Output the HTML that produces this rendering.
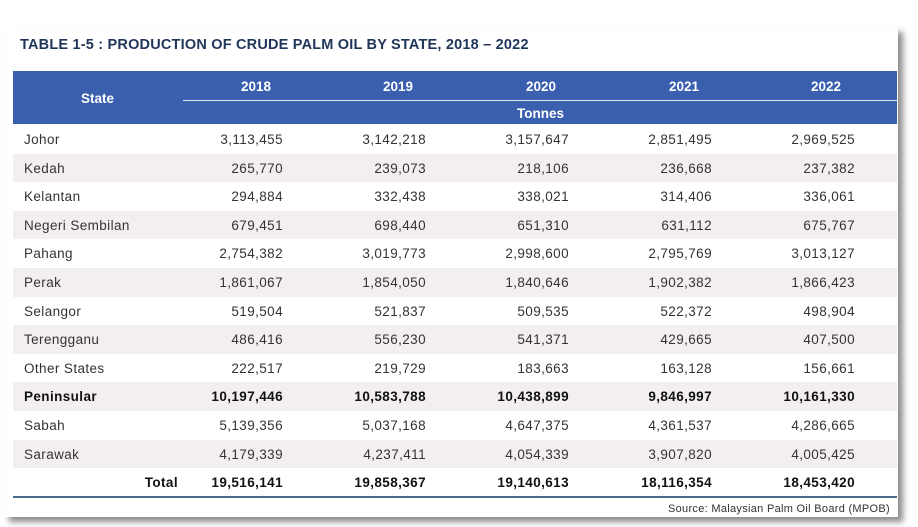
<!DOCTYPE html>
<html><head><style>
body{margin:0;width:918px;height:527px;background:#fff;position:relative;overflow:hidden;font-family:"Liberation Sans",sans-serif;}
#card{position:absolute;left:4px;top:27px;width:894px;height:490px;background:#fff;box-shadow:5px 5px 6px rgba(0,0,0,0.45);}
.t{position:absolute;white-space:nowrap;}
.title{left:20px;top:37px;font-size:14.5px;font-weight:bold;color:#1f3559;letter-spacing:0.2px;}
.hdr{position:absolute;left:13px;top:71px;width:884px;height:53px;background:#3a5fae;}
.hl{position:absolute;left:183px;top:100px;width:714px;height:1px;background:#dfe6f3;}
.h{color:#fff;font-weight:bold;font-size:13.5px;}
.row{position:absolute;left:13px;width:884px;height:28.6px;}
.sh{background:#f4efef;}
.c{position:absolute;font-size:13.5px;color:#333;top:7px;letter-spacing:0.4px;}
.lab{left:11px;}
.n{text-align:right;width:130px;}
.b{font-weight:bold;color:#111;}
</style></head><body>
<div id="card"></div>
<div class="t title">TABLE 1-5 : PRODUCTION OF CRUDE PALM OIL BY STATE, 2018 – 2022</div>
<div class="hdr"></div><div class="hl"></div>
<div class="t h" style="left:81px;top:91px">State</div>
<div class="t h" style="left:241px;top:79px">2018</div>
<div class="t h" style="left:383px;top:79px">2019</div>
<div class="t h" style="left:526px;top:79px">2020</div>
<div class="t h" style="left:669px;top:79px">2021</div>
<div class="t h" style="left:811px;top:79px">2022</div>
<div class="t h" style="left:517px;top:106px">Tonnes</div>
<div id="rows"></div>
<div style="position:absolute;left:13px;top:496px;width:884px;height:2px;background:#4a6a8a"></div>
<div class="t" style="right:28px;top:503px;font-size:11px;color:#333;letter-spacing:0.3px">Source: Malaysian Palm Oil Board (MPOB)</div>
<script>
var d=[["Johor","3,113,455","3,142,218","3,157,647","2,851,495","2,969,525"],
["Kedah","265,770","239,073","218,106","236,668","237,382"],
["Kelantan","294,884","332,438","338,021","314,406","336,061"],
["Negeri Sembilan","679,451","698,440","651,310","631,112","675,767"],
["Pahang","2,754,382","3,019,773","2,998,600","2,795,769","3,013,127"],
["Perak","1,861,067","1,854,050","1,840,646","1,902,382","1,866,423"],
["Selangor","519,504","521,837","509,535","522,372","498,904"],
["Terengganu","486,416","556,230","541,371","429,665","407,500"],
["Other States","222,517","219,729","183,663","163,128","156,661"],
["Peninsular","10,197,446","10,583,788","10,438,899","9,846,997","10,161,330"],
["Sabah","5,139,356","5,037,168","4,647,375","4,361,537","4,286,665"],
["Sarawak","4,179,339","4,237,411","4,054,339","3,907,820","4,005,425"],
["Total","19,516,141","19,858,367","19,140,613","18,116,354","18,453,420"]];
var h="";
d.forEach(function(r,i){
 var bold=(i==9||i==12)?" b":"";
 h+='<div class="row'+(i%2?' sh':'')+'" style="top:'+(125+i*28.6)+'px">';
 if(i==12)h+='<div class="c b" style="right:719px">Total</div>';
 else h+='<div class="c lab'+bold+'">'+r[0]+'</div>';
 for(var j=1;j<6;j++)h+='<div class="c n'+bold+'" style="left:'+(283-13-130+(j-1)*143)+'px">'+r[j]+'</div>';
 h+='</div>';
});
document.getElementById("rows").innerHTML=h;
</script>
</body></html>
